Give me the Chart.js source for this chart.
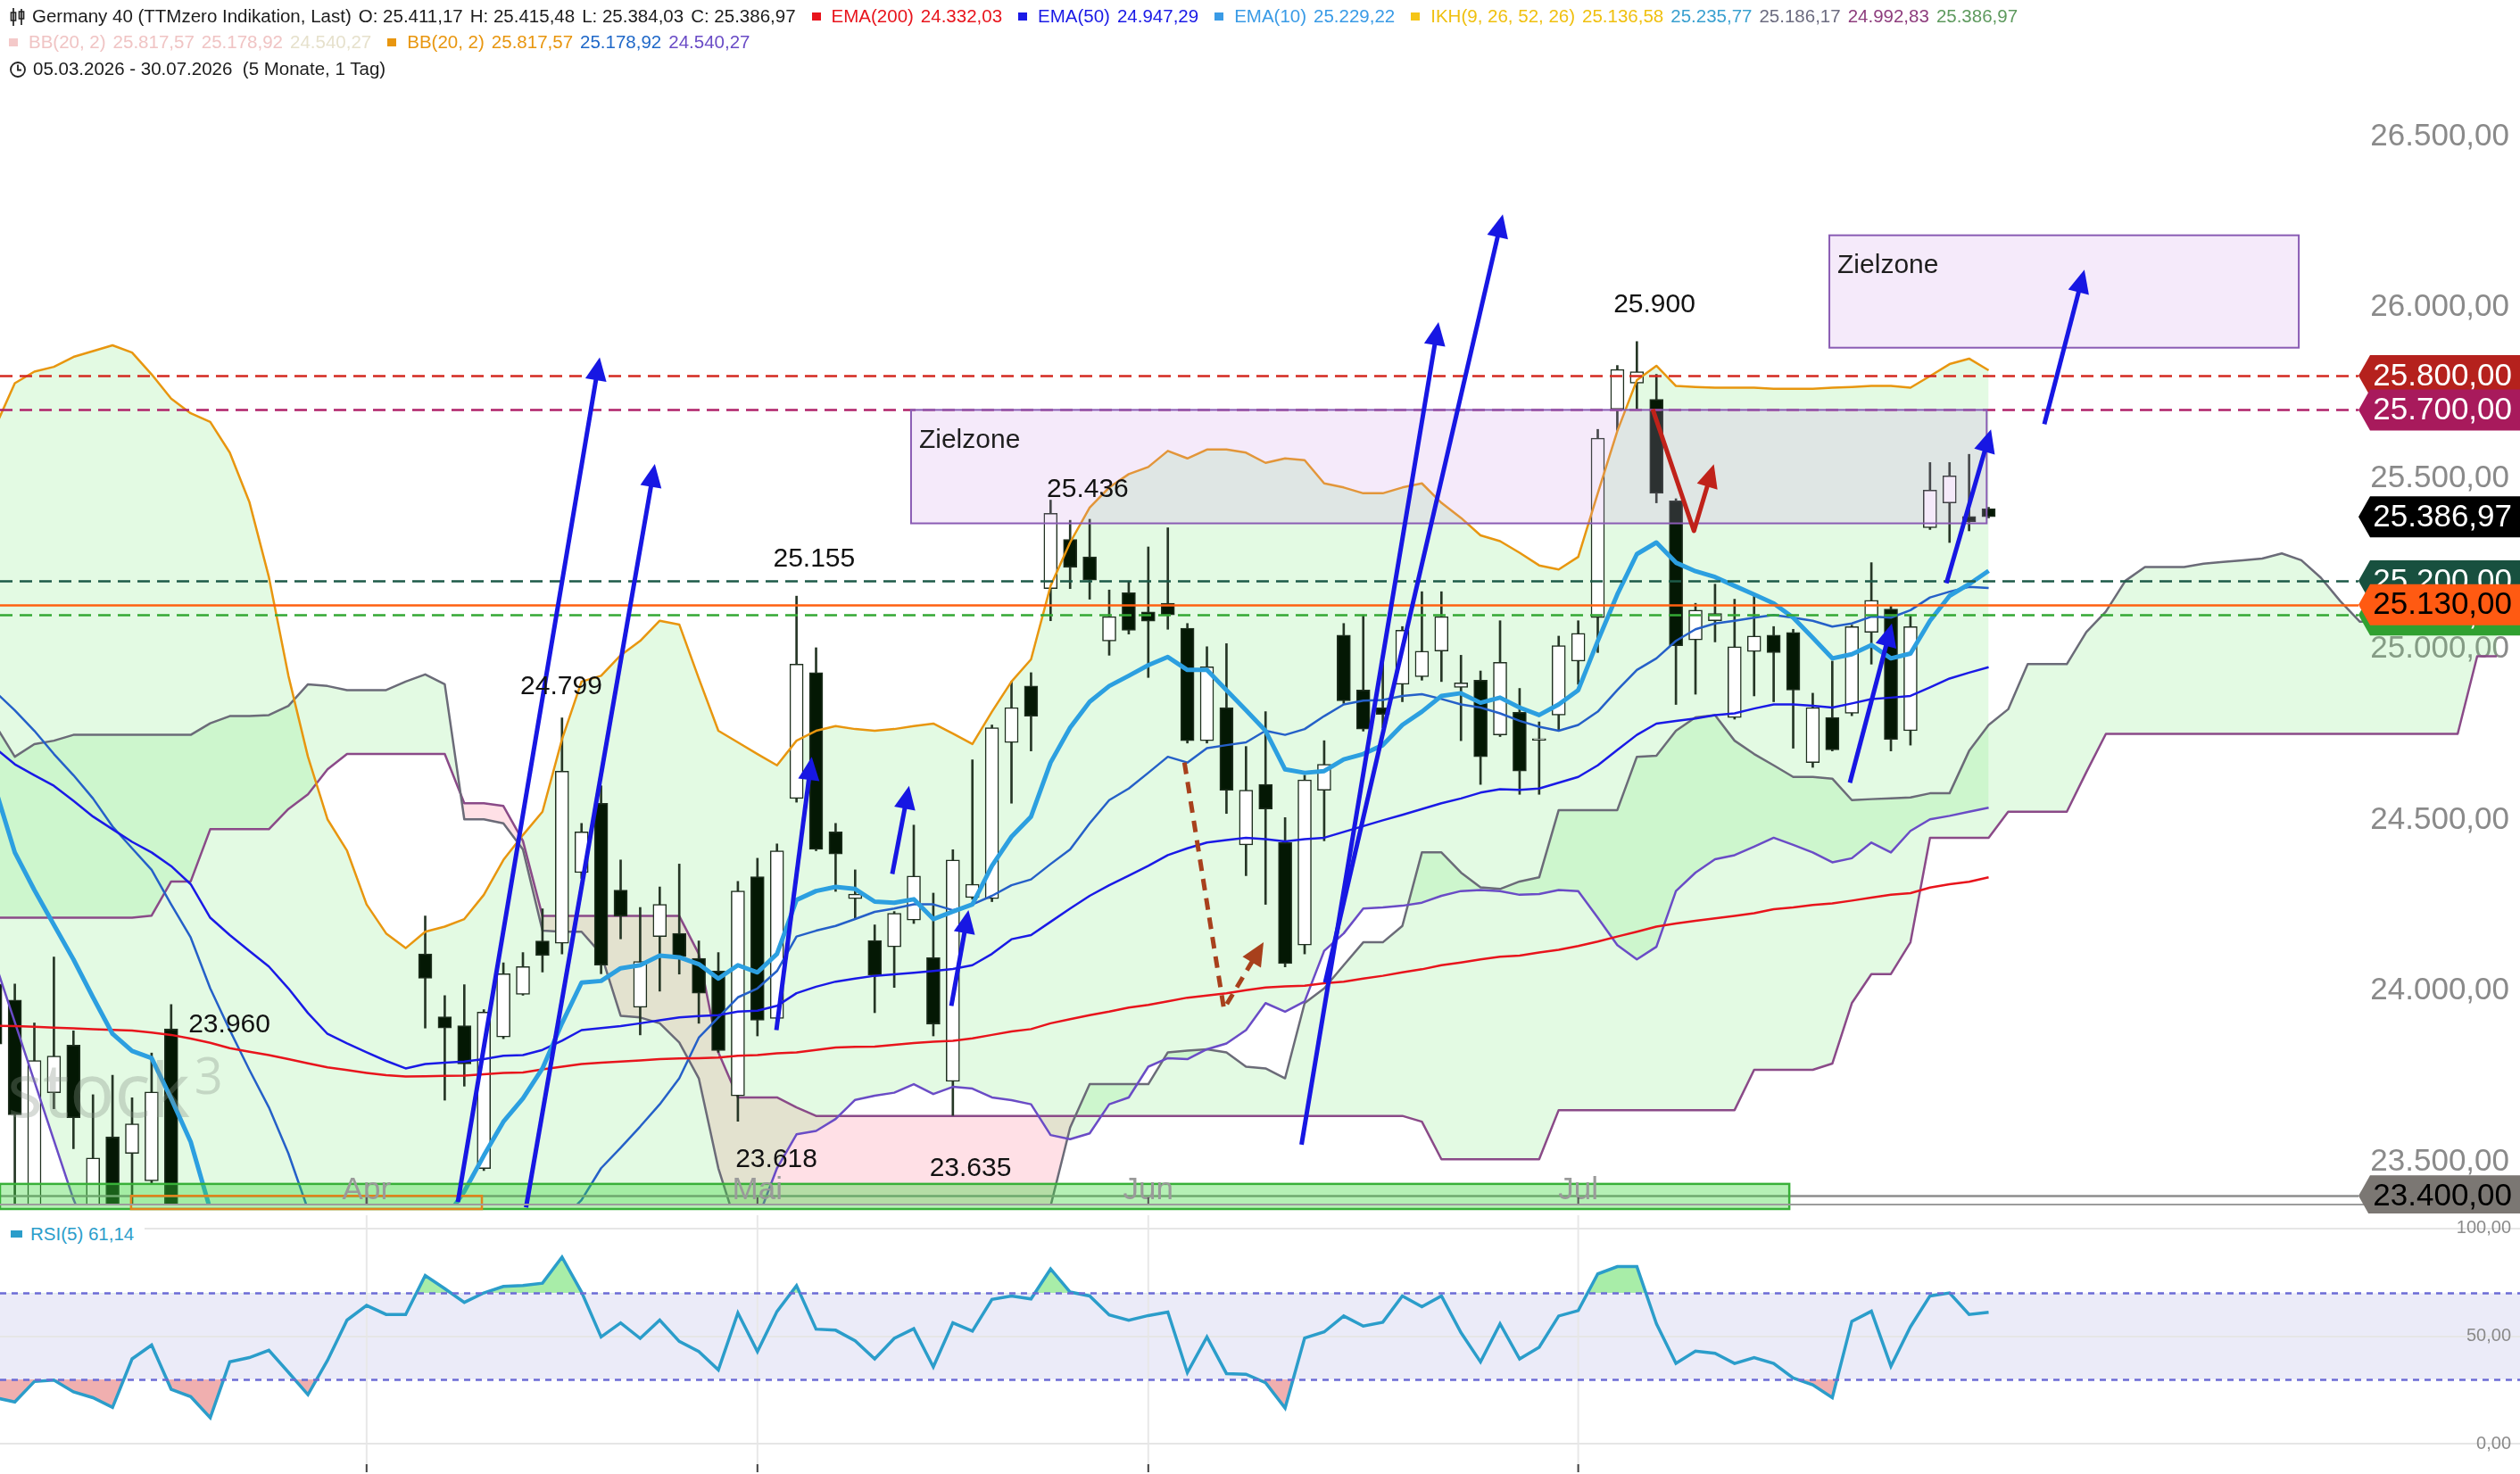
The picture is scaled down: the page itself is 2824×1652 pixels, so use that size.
<!DOCTYPE html>
<html lang="de"><head><meta charset="utf-8"><title>Germany 40</title>
<script src="https://cdn.jsdelivr.net/npm/chart.js@4.4.1/dist/chart.umd.min.js"></script>
<style>
html,body{margin:0;padding:0;background:#fff;}
#wrap{position:relative;width:2824px;height:1652px;overflow:hidden;background:#fff;font-family:"Liberation Sans",Arial,sans-serif;}
canvas{position:absolute;left:0;}
#main{top:0;} #rsi{top:1360px;}
.row{position:absolute;left:10px;white-space:nowrap;font-size:20.5px;line-height:24px;color:#1c1c1c;}
.row span{margin-left:8px;}
.row i.sq{display:inline-block;width:10px;height:9px;margin-left:18px;margin-right:4px;vertical-align:2px;}
#rsilab{position:absolute;left:0;top:1366px;background:#fff;padding:4px 12px 4px 12px;font-size:20.5px;line-height:26px;color:#2b9dca;white-space:nowrap;}
#rsilab i{display:inline-block;width:13px;height:8px;background:#2b9dca;margin-right:9px;vertical-align:3px;}
</style></head>
<body><div id="wrap">
<canvas id="main" width="2824" height="1360"></canvas>
<canvas id="rsi" width="2824" height="292"></canvas>

<div class="row" style="top:6px">
<svg width="20" height="22" viewBox="0 0 20 22" style="vertical-align:-5px"><path d="M5 1v20M2.5 6h5v9h-5z M14 2v18M11.5 5h5v8h-5z" stroke="#222" stroke-width="1.7" fill="none"/></svg><span style="margin-left:6px">Germany 40 (TTMzero Indikation, Last)</span><span>O: 25.411,17</span><span>H: 25.415,48</span><span>L: 25.384,03</span><span>C: 25.386,97</span><i class="sq" style="background:#e8141c"></i><span style="color:#e8141c">EMA(200)</span><span style="color:#e8141c">24.332,03</span><i class="sq" style="background:#1a1ae6"></i><span style="color:#1a1ae6">EMA(50)</span><span style="color:#1a1ae6">24.947,29</span><i class="sq" style="background:#3a9be6"></i><span style="color:#3a9be6">EMA(10)</span><span style="color:#3a9be6">25.229,22</span><i class="sq" style="background:#f5c518"></i><span style="color:#f0c010">IKH(9, 26, 52, 26)</span><span style="color:#f0c010">25.136,58</span><span style="color:#3aa0d0">25.235,77</span><span style="color:#6c6c80">25.186,17</span><span style="color:#8e3e7e">24.992,83</span><span style="color:#5e9a5e">25.386,97</span>
</div>
<div class="row" style="top:35px;left:0px">
<i class="sq" style="background:#f4c9c9;margin-left:10px"></i><span style="color:#f0c4c4">BB(20, 2)</span><span style="color:#f0c4c4">25.817,57</span><span style="color:#f0c4c4">25.178,92</span><span style="color:#e6e1cc">24.540,27</span><i class="sq" style="background:#e8960f"></i><span style="color:#e8960f">BB(20, 2)</span><span style="color:#e8960f">25.817,57</span><span style="color:#1f68c8">25.178,92</span><span style="color:#6a4cc6">24.540,27</span>
</div>
<div class="row" style="top:65px">
<svg width="20" height="20" viewBox="0 0 20 20" style="vertical-align:-4px"><circle cx="10" cy="10" r="8" stroke="#222" stroke-width="1.8" fill="none"/><path d="M10 4.5v6h4" stroke="#222" stroke-width="1.8" fill="none"/></svg><span style="margin-left:7px">05.03.2026 - 30.07.2026&nbsp;&nbsp;(5 Monate, 1 Tag)</span>
</div>
<div id="rsilab"><i></i>RSI(5) 61,14</div>
</div>

<script>
// ---------- DATA (index 0 = 05.03.2026 ... index 102 = 30.07.2026; cloud runs 26 slots further) ----------
const MONTH_LABELS = ['Apr', 'Mai', 'Jun', 'Jul'];
const MONTH_IDX = [19, 39, 59, 81];
const PRICE_TICKS = [23500, 24000, 24500, 25000, 25500, 26000, 26500];
const RSI_TICKS = [0, 50, 100];

const OPEN = [24020,23973,23360,23702,23841,23350,23573,23524,23444,23889,
23250,23000,22750,22950,23080,23150,22880,22600,22950,23260,
23300,23250,24108,23924,23898,23480,23865,23990,24146,24139,
24346,24549,24295,23952,24159,24168,24095,24058,23693,24334,
23919,24563,24931,24465,24270,24147,24129,24207,24097,23735,
24273,24270,24727,24892,25177,25321,25270,25024,25165,25109,
25134,25061,24732,24829,24427,24604,24434,24134,24587,25041,
24880,24829,24897,24919,24994,24888,24909,24749,24815,24733,
24807,24965,25092,25702,25778,25731,25434,25027,25083,24800,
24993,25041,25049,24668,24800,24812,25049,25117,24761,25355,
25428,25388,25411];
const HIGH = [24070,24020,23906,24099,23883,23696,23753,23687,23818,23960,
23360,23100,23050,23150,23250,23200,22950,22980,23300,23350,
23360,23355,24219,23986,24018,23945,24082,24112,24240,24799,
24490,24600,24383,24244,24304,24371,24146,24112,24320,24388,
24430,25155,25004,24490,24354,24193,24232,24485,24286,24413,
24676,24778,24905,24931,25436,25377,25380,25173,25199,25299,
25355,25075,25007,25016,24715,24817,24507,24631,24732,25075,
25100,24965,25066,25168,25168,24982,24936,25083,24885,24787,
25038,25083,25643,25830,25900,25804,25440,25134,25190,25146,
25163,25066,25058,24871,24965,25070,25253,25126,25100,25546,
25546,25570,25415];
const LOW = [23300,23300,23300,23655,23538,23300,23280,23340,23435,23150,
22950,22650,22700,22850,22950,22850,22500,22550,22900,23100,
23150,23200,23891,23680,23721,23474,23860,23987,24055,24108,
24329,24050,24152,23871,23999,24049,23905,23820,23618,23868,
23905,24552,24410,24291,24210,23936,24010,24197,23868,23635,
24268,24261,24549,24702,25083,25177,25146,24982,25044,24917,
25058,24725,24725,24519,24337,24253,24070,24108,24439,24841,
24760,24770,24846,24909,24905,24732,24604,24744,24575,24575,
24761,24897,24990,25640,25702,25428,24838,24868,25021,24795,
24863,24846,24710,24654,24702,24805,24956,24702,24719,25350,
25312,25346,25384];
const CLOSE = [23844,23637,23796,23809,23629,23511,23340,23611,23704,23250,
23050,22720,22980,23100,23200,22900,22560,22900,23250,23320,
23250,23340,24037,23891,23786,23938,24050,24071,24103,24643,
24465,24075,24219,24086,24253,24100,23993,23825,24292,23914,
24410,24956,24414,24400,24283,24046,24227,24336,23902,24383,
24312,24770,24829,24804,25397,25239,25202,25095,25055,25082,
25100,24732,24948,24587,24587,24532,24080,24617,24663,24849,
24766,24809,25055,24994,25095,24901,24685,24961,24643,24738,
25010,25046,25617,25818,25812,25456,25010,25114,25104,25007,
25038,24990,24880,24829,24705,25066,25143,24736,25066,25465,
25507,25372,25387];

const EMA200 = [23898,23897,23895,23892,23890,23888,23886,23884,23878,23871,
23860,23848,23832,23822,23812,23800,23788,23776,23768,23760,
23753,23749,23750,23751,23752,23756,23760,23761,23770,23778,
23786,23790,23793,23796,23800,23802,23803,23805,23810,23812,
23817,23820,23827,23834,23836,23837,23842,23847,23851,23854,
23861,23871,23881,23888,23905,23917,23929,23939,23951,23959,
23969,23980,23986,23993,24002,24010,24013,24015,24022,24027,
24036,24044,24054,24063,24075,24083,24092,24100,24103,24112,
24120,24131,24144,24159,24173,24188,24197,24205,24212,24219,
24227,24239,24244,24251,24256,24264,24273,24281,24286,24302,
24312,24319,24332];
const EMA50 = [24710,24663,24631,24600,24556,24510,24473,24436,24405,24365,
24312,24214,24163,24117,24071,24007,23935,23874,23846,23820,
23795,23773,23786,23790,23793,23800,23810,23812,23827,23854,
23885,23891,23897,23905,23914,23922,23926,23929,23939,23942,
23956,23993,24012,24027,24036,24044,24048,24053,24058,24064,
24075,24108,24151,24163,24202,24241,24278,24309,24337,24366,
24397,24417,24434,24441,24448,24444,24437,24444,24448,24465,
24482,24499,24515,24532,24549,24563,24580,24590,24588,24592,
24609,24626,24660,24705,24749,24782,24790,24797,24807,24812,
24826,24838,24838,24834,24829,24841,24854,24858,24863,24888,
24914,24931,24947];
const EMA10 = [24592,24405,24295,24193,24092,23981,23874,23824,23803,23685,
23558,23360,23250,23180,23140,23080,22990,22970,23020,23080,
23130,23180,23250,23330,23413,23518,23617,23685,23773,23905,
24024,24029,24066,24075,24103,24098,24078,24036,24075,24054,
24108,24266,24292,24304,24298,24261,24258,24268,24210,24232,
24253,24366,24451,24510,24668,24770,24846,24892,24922,24953,
24977,24939,24939,24880,24821,24761,24648,24638,24643,24677,
24693,24719,24778,24817,24863,24871,24843,24858,24829,24807,
24838,24880,25024,25160,25278,25312,25253,25228,25211,25185,
25160,25134,25092,25033,24973,24985,25012,24973,24987,25083,
25156,25190,25229];
const BB_UPPER = [25650,25778,25812,25826,25855,25872,25889,25868,25804,25733,
25690,25665,25575,25431,25211,24922,24685,24502,24410,24253,
24168,24125,24173,24188,24210,24281,24383,24456,24524,24736,
24905,24922,24982,25024,25083,25072,24914,24761,24727,24693,
24660,24732,24761,24775,24766,24761,24766,24775,24782,24753,
24722,24817,24905,24970,25185,25312,25414,25473,25512,25533,
25580,25558,25584,25584,25575,25545,25558,25553,25485,25473,
25456,25456,25473,25485,25428,25384,25333,25316,25282,25245,
25233,25270,25456,25638,25787,25829,25770,25767,25765,25765,
25765,25762,25762,25762,25765,25767,25770,25770,25765,25799,
25834,25850,25816];
const BB_MID = [24875,24821,24761,24693,24631,24563,24481,24417,24354,24253,
24156,24007,23885,23769,23659,23524,23360,23250,23150,23080,
23030,23000,23000,23020,23050,23090,23140,23200,23260,23330,
23388,23481,23541,23603,23668,23744,23863,23922,23981,24007,
24058,24159,24176,24190,24210,24231,24241,24253,24253,24236,
24253,24278,24309,24326,24371,24414,24490,24558,24592,24638,
24685,24668,24710,24719,24727,24761,24749,24766,24804,24838,
24849,24851,24863,24868,24854,24838,24829,24812,24790,24773,
24761,24778,24817,24880,24939,24973,25024,25058,25075,25083,
25092,25100,25092,25083,25066,25075,25095,25092,25114,25151,
25168,25182,25179];
const BB_LOWER = [24081,23908,23735,23562,23390,23254,23073,22966,22904,22773,
22622,22349,22195,22107,22107,22126,22047,21998,21890,21907,
21892,21875,21827,21852,21890,21899,21897,21944,21996,21924,
21871,22040,22100,22182,22253,22398,22812,23083,23235,23330,
23481,23580,23590,23625,23681,23693,23702,23727,23698,23719,
23714,23688,23680,23668,23578,23566,23583,23668,23688,23778,
23803,23800,23829,23846,23885,23964,23939,23969,24117,24168,
24241,24244,24249,24258,24278,24292,24295,24292,24281,24283,
24295,24292,24214,24134,24092,24129,24292,24346,24385,24397,
24422,24448,24427,24405,24376,24388,24434,24405,24468,24502,
24512,24524,24536];
const SENKOU_A = [24778,24685,24722,24732,24749,24749,24749,24749,24749,24749,
24749,24783,24804,24804,24807,24834,24897,24892,24880,24880,
24880,24905,24926,24897,24502,24502,24490,24414,24176,24173,
24173,24108,23927,23922,23905,23849,23744,23481,23300,23200,
23150,23100,23050,23050,23050,23100,23100,23100,23150,23200,
23200,23250,23280,23300,23370,23600,23727,23727,23727,23727,
23820,23825,23829,23820,23778,23773,23744,23964,24007,24075,
24142,24142,24190,24405,24405,24346,24303,24298,24320,24332,
24529,24529,24529,24529,24685,24688,24761,24800,24807,24732,
24693,24660,24626,24626,24621,24558,24561,24563,24566,24578,
24578,24702,24778,24824,24956,24956,24956,25050,25110,25200,
25240,25240,25240,25250,25255,25260,25265,25280,25260,25209,
25140,25080,25080,25080,25080,25080,25090,25140,25186];
const SENKOU_B = [24214,24214,24214,24214,24214,24214,24214,24214,24220,24320,
24320,24473,24473,24473,24473,24532,24575,24648,24693,24693,
24693,24693,24693,24693,24549,24549,24541,24439,24219,24219,
24219,24219,24219,24219,24219,24219,24108,23820,23688,23688,
23688,23659,23634,23634,23634,23634,23634,23634,23634,23634,
23634,23634,23634,23634,23634,23634,23634,23634,23634,23634,
23634,23634,23634,23634,23634,23634,23634,23634,23634,23634,
23634,23634,23634,23617,23507,23507,23507,23507,23507,23507,
23651,23651,23651,23651,23651,23651,23651,23651,23651,23651,
23769,23769,23769,23769,23787,23964,24049,24049,24142,24448,
24448,24448,24448,24524,24524,24524,24524,24640,24752,24752,
24752,24752,24752,24752,24752,24752,24752,24752,24752,24752,
24752,24752,24752,24752,24752,24752,24752,24979,24979];
const RSI5 = [21.5,19.5,29.0,29.7,24.2,21.5,17.0,39.5,45.9,25.4,
22.0,12.2,38.1,40.1,43.5,33.3,22.9,38.8,57.5,64.3,
60.1,60.1,78.2,72.1,65.7,70.1,73.1,73.5,74.6,86.7,
70.5,49.7,56.2,49.0,57.5,47.6,42.9,34.4,60.8,42.9,
61.5,73.5,53.3,52.8,47.9,39.5,49.0,53.5,35.8,56.2,
52.4,67.1,68.7,67.3,81.2,70.5,68.7,59.9,57.4,59.6,
61.2,33.1,49.7,32.7,32.4,28.5,16.7,49.2,52.0,59.4,
54.7,56.5,68.7,63.7,68.7,51.7,38.1,55.8,39.5,44.9,
59.4,61.9,78.9,82.3,82.3,55.8,37.4,43.1,42.1,37.4,
40.1,37.4,30.6,27.5,21.5,56.9,61.6,36.1,54.4,68.7,
70.1,60.1,61.1];

// ---------- drawings (in index / price coordinates) ----------
const LEVELS = [
  {v: 25800, color: '#d42a20', dash: [14, 8]},
  {v: 25700, color: '#b0226a', dash: [14, 8]},
  {v: 25200, color: '#1d5a48', dash: [14, 8]},
  {v: 25130, color: '#ff6010', dash: []},
  {v: 25100, color: '#34a834', dash: [14, 8]},
  {v: 23400, color: '#8c8c8c', dash: []}
];
const TAGS = [
  {v: 25800, bg: '#b5211d', fg: '#ffffff'},
  {v: 25700, bg: '#a81a5c', fg: '#ffffff'},
  {v: 25386.97, bg: '#000000', fg: '#ffffff'},
  {v: 25200, bg: '#18503f', fg: '#ffffff'},
  {v: 25100, bg: '#30a030', fg: '#ffffff'},
  {v: 25130, bg: '#ff5a12', fg: '#000000'},
  {v: 23400, bg: '#7b7773', fg: '#000000'}
];
const BOXES = [
  {i0: 46.86, i1: 101.9, v0: 25368, v1: 25700, text: 'Zielzone'},
  {i0: 93.85, i1: 117.87, v0: 25882, v1: 26211, text: 'Zielzone'}
];
const ZONES = [
  {i0: 0.242, i1: 91.8, v1: 23435, fill: 'rgba(60,215,60,0.38)', stroke: '#38b038'},
  {i0: 6.95, i1: 24.9, v1: 23400, fill: null, stroke: '#e0841c'}
];
const ARROWS = [
  {pts: [[23.67, 23382], [30.93, 25854]], color: '#1717e3'},
  {pts: [[27.16, 23366], [33.75, 25542]], color: '#1717e3'},
  {pts: [[39.97, 23885], [41.78, 24685]], color: '#1717e3'},
  {pts: [[45.9, 24342], [46.76, 24600]], color: '#1717e3'},
  {pts: [[48.92, 23956], [49.8, 24236]], color: '#1717e3'},
  {pts: [[66.84, 23550], [73.85, 25957]], color: '#1717e3'},
  {pts: [[68.05, 24024], [77.14, 26272]], color: '#1717e3'},
  {pts: [[94.9, 24609], [97.05, 25075]], color: '#1717e3'},
  {pts: [[99.84, 25193], [102.12, 25643]], color: '#1717e3'},
  {pts: [[104.85, 25658], [106.9, 26110]], color: '#1717e3'},
  {pts: [[84.81, 25702], [86.92, 25346], [87.94, 25541]], color: '#c0221a'},
  {pts: [[60.85, 24668], [62.87, 23947], [64.9, 24142]], color: '#a8401c', dash: [13, 9]}
];
const VALUE_LABELS = [
  {t: '25.900', i: 84.9, v: 26006},
  {t: '25.436', i: 55.9, v: 25467},
  {t: '25.155', i: 41.9, v: 25263},
  {t: '24.799', i: 28.96, v: 24891},
  {t: '23.960', i: 11.98, v: 23900},
  {t: '23.618', i: 39.97, v: 23505},
  {t: '23.635', i: 49.9, v: 23481}
];

// ---------- helpers ----------
const X_MIN = 0.242, X_MAX = 129.19;
function fmtDe(v, d) {
  const s = Math.abs(v).toFixed(d); let [ip, fp] = s.split('.');
  ip = ip.replace(/\B(?=(\d{3})+(?!\d))/g, '.');
  return (v < 0 ? '-' : '') + ip + (d ? ',' + fp : '');
}
const pts = arr => arr.map((v, i) => ({x: i, y: v}));
const FONT = '"Liberation Sans", Arial, sans-serif';

function drawArrow(ctx, P, color, dash) {
  ctx.save();
  ctx.strokeStyle = color; ctx.fillStyle = color; ctx.lineWidth = 5; ctx.lineJoin = 'round';
  ctx.setLineDash(dash || []);
  const n = P.length, [x1, y1] = P[n - 1], [x0, y0] = P[n - 2];
  const ang = Math.atan2(y1 - y0, x1 - x0), L = 26, W = 12;
  ctx.beginPath();
  P.forEach((p, k) => {
    if (k === n - 1) ctx.lineTo(x1 - (L - 4) * Math.cos(ang), y1 - (L - 4) * Math.sin(ang));
    else if (k === 0) ctx.moveTo(p[0], p[1]); else ctx.lineTo(p[0], p[1]);
  });
  ctx.stroke();
  ctx.setLineDash([]);
  const c = Math.cos(ang), s = Math.sin(ang);
  ctx.beginPath();
  ctx.moveTo(x1, y1);
  ctx.lineTo(x1 - L * c + W * s, y1 - L * s - W * c);
  ctx.lineTo(x1 - L * c - W * s, y1 - L * s + W * c);
  ctx.closePath(); ctx.fill();
  ctx.restore();
}

const TAG_TIP = 2643;
const mainOverlay = {
  id: 'mainOverlay',
  afterDatasetsDraw(chart) {
    const ctx = chart.ctx, a = chart.chartArea;
    const X = v => chart.scales.x.getPixelForValue(v), Y = v => chart.scales.y.getPixelForValue(v);
    ctx.save();
    // watermark (drawn over the candles, translucent)
    ctx.fillStyle = 'rgba(135,145,135,0.33)';
    ctx.textAlign = 'left'; ctx.textBaseline = 'alphabetic';
    ctx.font = '84px "Open Sans", ' + FONT;
    ctx.fillText('stock', 8, 1252);
    const w = ctx.measureText('stock').width;
    ctx.font = '56px "Open Sans", ' + FONT;
    ctx.fillText('3', 8 + w + 5, 1226);
    // level lines
    LEVELS.forEach(l => {
      ctx.strokeStyle = l.color; ctx.lineWidth = 2.5; ctx.setLineDash(l.dash);
      const y = Math.round(Y(l.v)) + 0.5;
      ctx.beginPath(); ctx.moveTo(a.left, y); ctx.lineTo(TAG_TIP, y); ctx.stroke();
    });
    ctx.setLineDash([]);
    // bottom zones
    ZONES.forEach(z => {
      const x0 = X(z.i0), x1 = X(z.i1), y0 = Y(z.v1), y1 = a.bottom + 4;
      if (z.fill) { ctx.fillStyle = z.fill; ctx.fillRect(x0, y0, x1 - x0, y1 - y0); }
      ctx.strokeStyle = z.stroke; ctx.lineWidth = 2.5; ctx.strokeRect(x0, y0, x1 - x0, y1 - y0);
    });
    // Zielzone boxes
    BOXES.forEach(b => {
      const x0 = X(b.i0), x1 = X(b.i1), y0 = Y(b.v1), y1 = Y(b.v0);
      ctx.fillStyle = 'rgba(205,150,228,0.2)'; ctx.fillRect(x0, y0, x1 - x0, y1 - y0);
      ctx.strokeStyle = '#8a5cb4'; ctx.lineWidth = 2; ctx.strokeRect(x0, y0, x1 - x0, y1 - y0);
      ctx.fillStyle = '#1e1e1e'; ctx.font = '30px ' + FONT; ctx.textAlign = 'left'; ctx.textBaseline = 'middle';
      ctx.fillText(b.text, x0 + 9, y0 + 34);
    });
    // arrows
    ARROWS.forEach(ar => drawArrow(ctx, ar.pts.map(p => [X(p[0]), Y(p[1])]), ar.color, ar.dash));
    // value labels
    ctx.fillStyle = '#111'; ctx.font = '30px ' + FONT; ctx.textAlign = 'center'; ctx.textBaseline = 'middle';
    VALUE_LABELS.forEach(l => ctx.fillText(l.t, X(l.i), Y(l.v)));
    // month labels and ticks
    ctx.fillStyle = '#9a9a9a'; ctx.font = '35px ' + FONT; ctx.textBaseline = 'alphabetic';
    MONTH_IDX.forEach((m, k) => {
      const x = X(m);
      ctx.fillText(MONTH_LABELS[k], x, 1344);
      ctx.strokeStyle = '#555'; ctx.lineWidth = 2;
      ctx.beginPath(); ctx.moveTo(x, a.bottom - 9); ctx.lineTo(x, a.bottom); ctx.stroke();
    });
    // panel border
    ctx.strokeStyle = '#9c9c9c'; ctx.lineWidth = 2;
    ctx.beginPath(); ctx.moveTo(0, a.bottom - 1); ctx.lineTo(2824, a.bottom - 1); ctx.stroke();
    ctx.restore();
  },
  afterDraw(chart) {
    const ctx = chart.ctx, Y = v => chart.scales.y.getPixelForValue(v);
    ctx.save();
    TAGS.forEach(t => {
      const y = Y(t.v), h = 46, xb = TAG_TIP + 13, xr = 2824;
      ctx.fillStyle = t.bg;
      ctx.beginPath();
      ctx.moveTo(TAG_TIP, y); ctx.lineTo(xb, y - h / 2); ctx.lineTo(xr, y - h / 2);
      ctx.lineTo(xr, y + h / 2); ctx.lineTo(xb, y + h / 2); ctx.closePath(); ctx.fill();
      ctx.fillStyle = t.fg; ctx.font = '35px ' + FONT; ctx.textAlign = 'right'; ctx.textBaseline = 'middle';
      ctx.fillText(fmtDe(t.v, 2), 2815, y + 1);
    });
    ctx.restore();
  }
};

const BB_FILL = 'rgba(115,230,115,0.2)';
const lineDs = (data, color, width, order, extra) => Object.assign({
  type: 'line', data: pts(data), borderColor: color, borderWidth: width, pointRadius: 0,
  tension: 0, fill: false, order: order, borderJoinStyle: 'round'
}, extra || {});

new Chart(document.getElementById('main'), {
  type: 'line',
  data: {
    datasets: [
      lineDs(SENKOU_A, '#6b6b78', 2.5, 60, {fill: {target: 1, above: 'rgba(115,230,115,0.2)', below: 'rgba(255,100,130,0.2)'}}),
      lineDs(SENKOU_B, '#8a4a88', 2.5, 60),
      lineDs(BB_UPPER, '#e8960f', 2.5, 45, {fill: {target: 3, above: BB_FILL, below: BB_FILL}}),
      lineDs(BB_LOWER, '#6a4cc6', 2.5, 45),
      lineDs(BB_MID, '#2560c8', 2.5, 45),
      {type: 'bar', data: LOW.map((l, i) => ({x: i, y: [l, HIGH[i]]})), backgroundColor: '#263626',
       borderWidth: 0, barThickness: 2, grouped: false, order: 50},
      {type: 'bar', data: OPEN.map((o, i) => ({x: i, y: [Math.min(o, CLOSE[i]), Math.max(o, CLOSE[i])]})),
       backgroundColor: c => CLOSE[c.dataIndex] >= OPEN[c.dataIndex] ? '#ffffff' : '#041804',
       borderColor: '#1f2f1f', borderWidth: 1.5, borderSkipped: false, barThickness: 15, grouped: false, order: 49},
      lineDs(EMA200, '#e8141c', 2.5, 42),
      lineDs(EMA50, '#1a1ae6', 2.5, 41),
      lineDs(EMA10, '#2c9fe0', 5, 40)
    ]
  },
  options: {
    responsive: false, animation: false, devicePixelRatio: 1, events: [],
    layout: {padding: 0},
    plugins: {legend: {display: false}, tooltip: {enabled: false}, filler: {drawTime: 'beforeDatasetsDraw'}},
    scales: {
      x: {type: 'linear', min: X_MIN, max: X_MAX, offset: false, bounds: 'ticks', display: false},
      y: {
        position: 'right', min: 23372, max: 26876, z: 1,
        afterFit: s => { s.width = 0; },
        afterBuildTicks: s => { s.ticks = PRICE_TICKS.map(v => ({value: v})); },
        grid: {display: false, drawTicks: false}, border: {display: false},
        ticks: {mirror: true, padding: -12, color: '#8a8a8a', font: {family: FONT, size: 35},
                callback: v => fmtDe(v, 2)}
      }
    }
  },
  plugins: [mainOverlay]
});

const rsiOverlay = {
  id: 'rsiOverlay',
  beforeDraw(chart) {
    const ctx = chart.ctx, a = chart.chartArea;
    const X = v => chart.scales.x.getPixelForValue(v), Y = v => chart.scales.y.getPixelForValue(v);
    ctx.save();
    ctx.fillStyle = '#ebebf8';
    ctx.fillRect(a.left, Y(70), a.right - a.left, Y(30) - Y(70));
    ctx.strokeStyle = '#e8e8e8'; ctx.lineWidth = 2;
    MONTH_IDX.forEach(m => { const x = X(m); ctx.beginPath(); ctx.moveTo(x, a.top); ctx.lineTo(x, a.bottom); ctx.stroke(); });
    ctx.restore();
  },
  afterDatasetsDraw(chart) {
    const ctx = chart.ctx, a = chart.chartArea;
    const X = v => chart.scales.x.getPixelForValue(v), Y = v => chart.scales.y.getPixelForValue(v);
    ctx.save();
    ctx.strokeStyle = '#6c6cd6'; ctx.lineWidth = 2.5; ctx.setLineDash([7, 6]);
    [70, 30].forEach(v => { const y = Math.round(Y(v)) + 0.5; ctx.beginPath(); ctx.moveTo(a.left, y); ctx.lineTo(a.right, y); ctx.stroke(); });
    ctx.setLineDash([]);
    ctx.strokeStyle = '#444'; ctx.lineWidth = 2;
    MONTH_IDX.forEach(m => { const x = X(m); ctx.beginPath(); ctx.moveTo(x, a.bottom - 9); ctx.lineTo(x, a.bottom); ctx.stroke(); });
    ctx.restore();
  }
};

new Chart(document.getElementById('rsi'), {
  type: 'line',
  data: {
    datasets: [
      {data: pts(RSI5), borderColor: '#2b9dca', borderWidth: 3.5, pointRadius: 0, tension: 0, order: 1,
       fill: {target: {value: 70}, above: 'rgba(110,225,110,0.6)', below: 'rgba(0,0,0,0)'}},
      {data: pts(RSI5), borderColor: 'rgba(0,0,0,0)', borderWidth: 0, pointRadius: 0, tension: 0, order: 2,
       fill: {target: {value: 30}, above: 'rgba(0,0,0,0)', below: 'rgba(228,110,110,0.55)'}}
    ]
  },
  options: {
    responsive: false, animation: false, devicePixelRatio: 1, events: [],
    layout: {padding: 0},
    plugins: {legend: {display: false}, tooltip: {enabled: false}},
    scales: {
      x: {type: 'linear', min: X_MIN, max: X_MAX, offset: false, display: false},
      y: {
        position: 'right', min: -13.06, max: 106.12,
        afterFit: s => { s.width = 0; },
        afterBuildTicks: s => { s.ticks = RSI_TICKS.map(v => ({value: v})); },
        grid: {color: '#e6e6e6', lineWidth: 2, drawTicks: false}, border: {display: false},
        ticks: {mirror: true, padding: -10, color: '#8a8a8a', font: {family: FONT, size: 20},
                callback: v => fmtDe(v, 2)}
      }
    }
  },
  plugins: [rsiOverlay]
});
</script>
</body></html>
